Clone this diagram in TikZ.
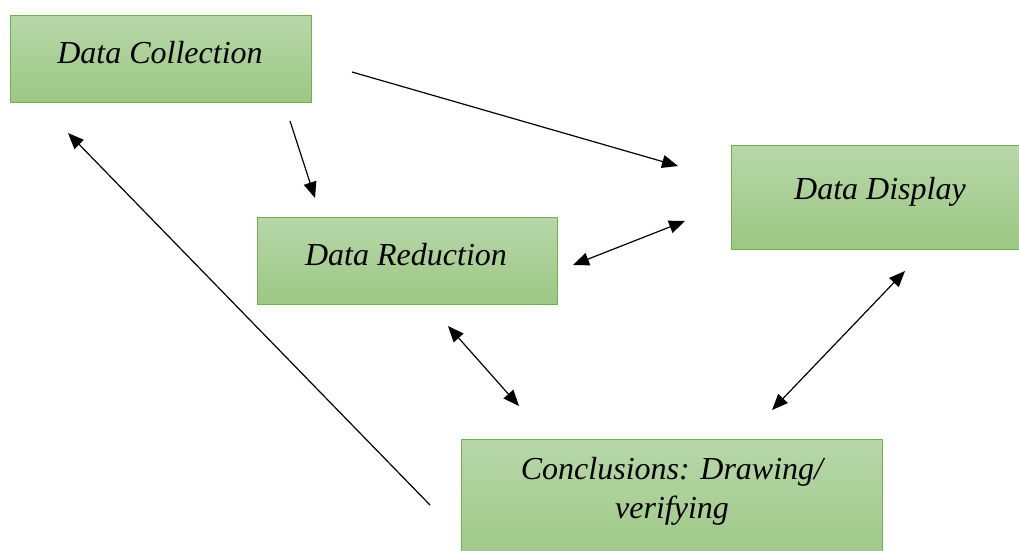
\documentclass[tikz,border=0pt]{standalone}
\usepackage{fontspec}
\setmainfont{Liberation Serif}
\usetikzlibrary{arrows.meta}
\definecolor{boxtop}{HTML}{B7D7A9}
\definecolor{boxbot}{HTML}{9CC783}
\definecolor{boxline}{HTML}{73B04C}
\tikzset{
  gbox/.style={draw=boxline, line width=1pt, top color=boxtop, bottom color=boxbot, rectangle, inner sep=0pt, anchor=north west},
  lbl/.style={font=\fontsize{32}{39}\selectfont\itshape, align=center},
  conn/.style={line width=1.2pt, -{Triangle[length=16pt,width=13pt]}},
  dconn/.style={line width=1.2pt, {Triangle[length=16pt,width=13pt]}-{Triangle[length=16pt,width=13pt]}}
}
\begin{document}
\begin{tikzpicture}[x=1pt,y=-1pt]
\useasboundingbox (0,0) rectangle (1019,550);
\clip (0,0) rectangle (1019,550);
\node[gbox, minimum width=301pt, minimum height=87pt] (dc) at (10,15) {};
\node[gbox, minimum width=288pt, minimum height=104pt] (dd) at (731,145) {};
\node[gbox, minimum width=300pt, minimum height=87pt] (dr) at (257,217) {};
\node[gbox, minimum width=421pt, minimum height=130pt] (cv) at (461,439) {};
\node[lbl] (tdc) at (160,53) {Data Collection};
\node[lbl] (tdd) at (880,192) {Data Display};
\node[lbl] (tdr) at (406,255) {Data Reduction};
\node[lbl] (tcv) at (672,491) {Conclusions: Drawing/\\verifying};
\coordinate (a1s) at (352,72); \coordinate (a1e) at (678,166);
\coordinate (a2s) at (290,121); \coordinate (a2e) at (315,198);
\coordinate (a3s) at (573,265); \coordinate (a3e) at (685,221);
\coordinate (a4s) at (448,326); \coordinate (a4e) at (519,406);
\coordinate (a5s) at (772,410); \coordinate (a5e) at (905,271);
\coordinate (a6s) at (430,505); \coordinate (a6e) at (68,133);
\draw[conn] (a1s) -- (a1e);
\draw[conn] (a2s) -- (a2e);
\draw[dconn] (a3s) -- (a3e);
\draw[dconn] (a4s) -- (a4e);
\draw[dconn] (a5s) -- (a5e);
\draw[conn] (a6s) -- (a6e);
\end{tikzpicture}
\end{document}
